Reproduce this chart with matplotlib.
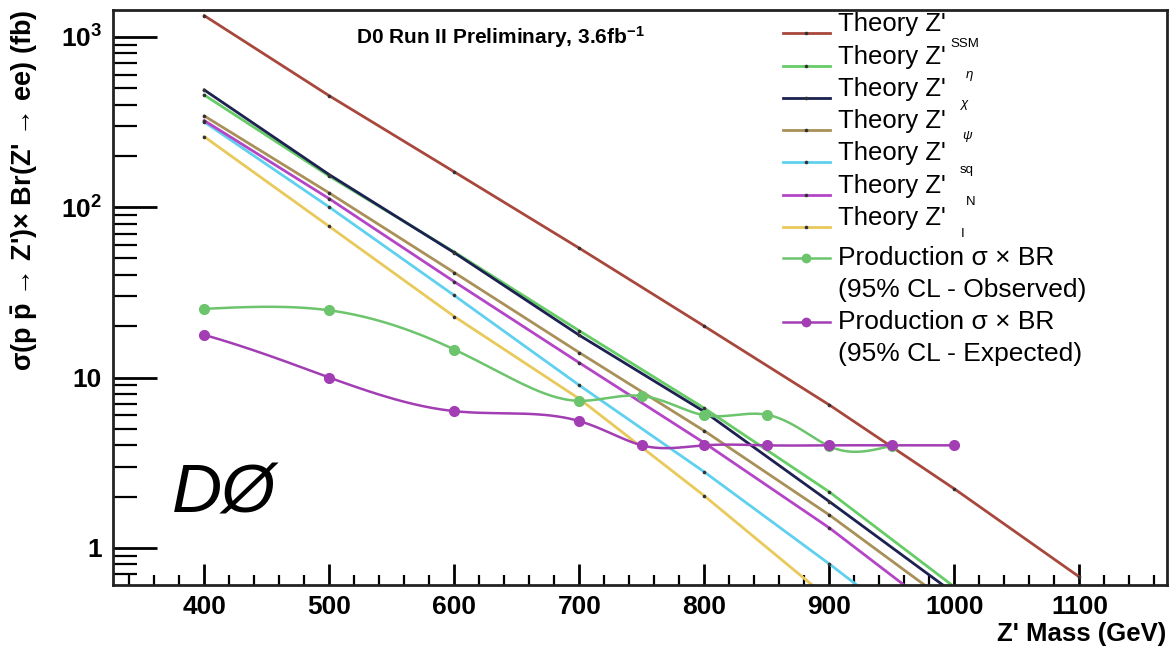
import numpy as np
import matplotlib
matplotlib.use("Agg")
import matplotlib.pyplot as plt
from matplotlib.lines import Line2D
from matplotlib.ticker import FixedLocator, NullFormatter, MultipleLocator

plt.rcParams.update({'font.family': ['Liberation Sans', 'DejaVu Sans'], 'mathtext.fontset': 'custom',
                     'mathtext.rm': 'Liberation Sans', 'mathtext.bf': 'Liberation Sans:bold',
                     'mathtext.it': 'Liberation Sans:italic', 'mathtext.sf': 'Liberation Sans'})

# ---- data ----
ssm_mass = [400, 500, 600, 700, 800, 900, 1000, 1100]
ssm = [1330, 450, 161, 57.4, 20.0, 6.9, 2.22, 0.675]
th_mass = [400, 500, 600, 700, 800, 900, 1000]
eta = [455, 152, 54.5, 18.8, 6.6, 2.13, 0.59]
chi = [487, 155, 54, 17.7, 6.3, 1.87, 0.54]
psi = [343, 121, 41.3, 14.0, 4.86, 1.56, 0.45]
sq = [316, 100, 30.3, 9.0, 2.79, 0.805, 0.22]
zn = [322, 112, 36.5, 12.2, 4.13, 1.31, 0.36]
zi = [259, 77, 22.8, 7.5, 2.02, 0.50, 0.13]
obs_mass = [400, 500, 600, 700, 750, 800, 850, 900, 950]
obs = [25.3, 24.8, 14.6, 7.3, 7.8, 6.0, 6.05, 3.95, 3.98]
exp_mass = [400, 500, 600, 700, 750, 800, 850, 900, 950, 1000]
exp_ = [17.8, 10.0, 6.35, 5.55, 4.0, 4.0, 4.0, 4.0, 4.0, 4.0]

theory = [('SSM', ssm_mass, ssm, '#a8473b'), (r'\eta', th_mass, eta, '#66cc66'),
          (r'\chi', th_mass, chi, '#1c2152'), (r'\psi', th_mass, psi, '#a89058'),
          ('sq', th_mass, sq, '#5fd0ee'), ('N', th_mass, zn, '#b445c6'),
          ('I', th_mass, zi, '#e8c95a')]
C_OBS = '#6cc46c'; C_EXP = '#a23db4'


def spline(x, y, n=40):
    # natural cubic spline, only used to draw the smooth limit curves
    x = np.asarray(x, float); y = np.asarray(y, float)
    k = len(x); h = np.diff(x)
    A = np.zeros((k, k)); b = np.zeros(k)
    A[0, 0] = A[-1, -1] = 1
    for i in range(1, k - 1):
        A[i, i-1] = h[i-1]; A[i, i] = 2*(h[i-1]+h[i]); A[i, i+1] = h[i]
        b[i] = 6*((y[i+1]-y[i])/h[i] - (y[i]-y[i-1])/h[i-1])
    m = np.linalg.solve(A, b)
    xs, ys = [], []
    for i in range(k - 1):
        t = np.linspace(x[i], x[i+1], n); a = x[i+1]-t; c = t-x[i]
        s = (m[i]*a**3 + m[i+1]*c**3)/(6*h[i]) + (y[i]/h[i]-m[i]*h[i]/6)*a + (y[i+1]/h[i]-m[i+1]*h[i]/6)*c
        xs.append(t); ys.append(s)
    return np.concatenate(xs), np.concatenate(ys)


W, H = 1171, 649
fig = plt.figure(figsize=(W/100, H/100), dpi=100)
ax = fig.add_axes([113/W, 1-585/H, (1167-113)/W, (585-10)/H])
def fx(x): return x / W
def fy(y): return 1 - y / H

for name, m, v, col in theory:
    ax.plot(m, v, color=col, lw=2.0, zorder=2)
    ax.plot(m, v, ls='none', marker='o', ms=1.6, color='#333333', zorder=2.5)
for m, v, col in [(obs_mass, obs, C_OBS), (exp_mass, exp_, C_EXP)]:
    sx, sy = spline(m, v)
    ax.plot(sx, sy, color=col, lw=1.8, zorder=3)
    ax.plot(m, v, ls='none', marker='o', ms=7, color=col, zorder=4)

ax.set_yscale('log')
ax.set_xlim(327, 1170); ax.set_ylim(0.606, 1435)
ax.xaxis.set_major_locator(MultipleLocator(100)); ax.xaxis.set_minor_locator(MultipleLocator(20))
ax.set_yticks([1, 10, 100, 1000])
ax.set_yticklabels(['1', '10', r'$\mathbf{10^{2}}$', r'$\mathbf{10^{3}}$'])
ax.yaxis.set_minor_locator(FixedLocator([d*k for d in [0.1, 1, 10, 100, 1000] for k in range(2, 10)]))
ax.yaxis.set_minor_formatter(NullFormatter())
ax.tick_params(axis='x', which='major', direction='in', length=15, width=2, pad=7, labelsize=19)
ax.tick_params(axis='x', which='minor', direction='in', length=7, width=1.6)
ax.tick_params(axis='y', which='major', direction='in', length=32, width=2, pad=8, labelsize=19)
ax.tick_params(axis='y', which='minor', direction='in', length=17, width=1.6)
for lab in ax.get_xticklabels() + ax.get_yticklabels():
    lab.set_fontweight('bold')
for s in ax.spines.values():
    s.set_linewidth(2); s.set_color('#222222')

fig.text(fx(25), fy(10), r"σ(p $\mathbf{\bar{p}}$ → Z')× Br(Z' → ee) (fb)", rotation=90,
         ha='center', va='top', fontsize=19.5, fontweight='bold')
fig.text(fx(1166), fy(634), "Z' Mass (GeV)", ha='right', va='center', fontsize=18.5, fontweight='bold')
fig.text(fx(500), fy(37), r'D0 Run II Preliminary, 3.6fb$^{\mathbf{-1}}$', ha='center', va='center',
         fontsize=15, fontweight='bold')
fig.text(fx(172), fy(494), 'DØ', ha='left', va='center', fontsize=50, style='italic')

# ---- hand-placed legend ----
hy = [33, 66, 98, 130, 162, 195, 227]
sub_xy = [(950, 44), (965, 76), (960, 105), (962, 136), (960, 170), (966, 202), (961, 234)]
for (name, m, v, col), y, (sx, sy) in zip(theory, hy, sub_xy):
    fig.add_artist(Line2D([fx(783), fx(830)], [fy(y), fy(y)], color=col, lw=2, transform=fig.transFigure))
    fig.add_artist(Line2D([fx(806)], [fy(y)], marker='o', ms=1.6, color='#333333', transform=fig.transFigure))
    fig.text(fx(838), fy(y-9), "Theory Z'", ha='left', va='center', fontsize=18.5)
    fig.text(fx(sx), fy(sy), '$%s$' % name if name.startswith('\\') else name,
             ha='left', va='center', fontsize=9.5)
for y, col, which in [(258, C_OBS, 'Observed'), (322, C_EXP, 'Expected')]:
    fig.add_artist(Line2D([fx(783), fx(830)], [fy(y), fy(y)], color=col, lw=1.8, transform=fig.transFigure))
    fig.add_artist(Line2D([fx(806)], [fy(y)], marker='o', ms=6, color=col, transform=fig.transFigure))
    fig.text(fx(838), fy(y), 'Production σ × BR', ha='left', va='center', fontsize=19)
    fig.text(fx(838), fy(y+32), '(95% CL - ' + which + ')', ha='left', va='center', fontsize=19)

fig.savefig('out.png', dpi=100)
